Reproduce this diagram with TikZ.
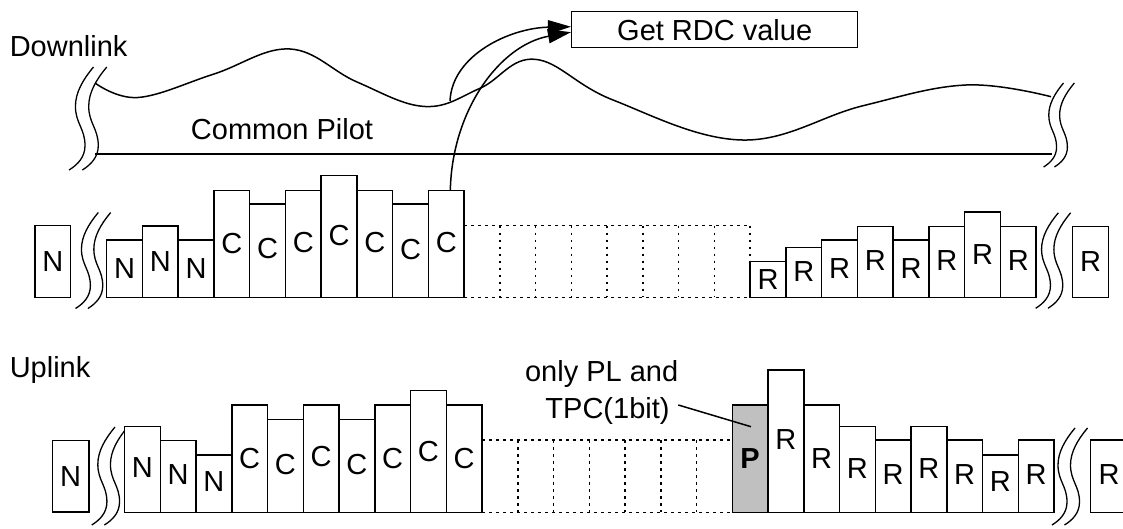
\documentclass[tikz,border=0pt]{standalone}
\usepackage{fontspec}
\setmainfont{Liberation Sans}
\usetikzlibrary{arrows.meta}
\definecolor{pgray}{RGB}{192,192,192}
\newcommand\brkmark[3]{%
  \begin{scope}[shift={(#1,#2)}, scale=#3/97]
    \foreach \g in {0,12.5}{%
      \draw[brkl] (\g,0) .. controls (\g-10,12) and (\g-17,24) .. (\g-17,37)
        .. controls (\g-17,53) and (\g-8,58) .. (\g-8,74)
        .. controls (\g-8,85) and (\g-15,92) .. (\g-23,97);}
  \end{scope}}
\begin{document}
\begin{tikzpicture}[x=1pt,y=-1pt, line width=1.5pt,
  bar/.style={draw, line width=1.5pt, fill=white, inner sep=0pt, outer sep=0pt,
    minimum width=35.75pt, anchor=south west},
  lbl/.style={font=\fontsize{29}{34}\selectfont, inner sep=0pt},
  dotl/.style={line width=1.5pt, dash pattern=on 2.5pt off 4.5pt},
  brkl/.style={line width=1.3pt},
  arr/.style={line width=1.5pt, -{Triangle[length=23pt,width=14pt]}}]
\useasboundingbox (0,0) rectangle (1123,529);

% ---------- labels ----------
\node[lbl, anchor=west] (downlink) at (9,46) {Downlink};
\node[lbl, anchor=west] (uplink) at (9,370) {Uplink};
\node[lbl] (pilot) at (282,129) {Common Pilot};
\node[lbl, draw, line width=1.5pt, minimum width=286pt, minimum height=36pt] (rdc) at (714.7,29.7) {Get RDC value};

% ---------- common pilot ----------
\draw plot[smooth, tension=0.65] coordinates {(95,83) (138,97.5) (214,74) (290,49) (357,82) (425,106.5) (480,88.3) (535,59.3) (613,100) (742,140) (862,106) (966,85) (1051,96.7)};
\draw (95,154) -- (1052,154);
\brkmark{93.5}{67}{103}
\brkmark{1063.5}{83}{84}

% ---------- downlink ----------
\node[bar, minimum width=35.7pt, minimum height=71.6pt] (dn0) at (35,297.3) {};
\node[lbl] (dn0l) at (52.85,261.7) {N};
\brkmark{98.3}{212.5}{96}
\foreach \l/\t/\ly [count=\i from 0] in {N/240/268.3, N/226/261.7, N/240/268.3, C/190.3/243.3, C/204/248.3, C/190.3/242.7, C/175.7/236, C/190.3/242.7, C/204/250, C/190.3/242.7}{
  \pgfmathsetmacro\xx{106.7+35.75*\i}
  \pgfmathsetmacro\hh{297.3-\t}
  \node[bar, minimum height=\hh pt] (d\i) at (\xx,297.3) {};
  \node[lbl] (dl\i) at (\xx+17.875,\ly) {\l};
}
% dotted gap
\draw[dotl] (464.2,225.7) -- (750.2,225.7);
\draw[dotl] (464.2,297.3) -- (750.2,297.3);
\foreach \k in {1,...,7}{
  \draw[dotl] (464.2+35.75*\k,225.7) -- (464.2+35.75*\k,297.3);
}
\draw[dotl] (750.2,225.7) -- (750.2,262);
\foreach \t/\ly [count=\i from 18] in {261.7/280, 247.3/271.7, 240/268.3, 226.3/260.7, 240/268.3, 226.3/260.7, 212/254.3, 226.3/260.7}{
  \pgfmathsetmacro\xx{106.7+35.75*\i}
  \pgfmathsetmacro\hh{297.3-\t}
  \node[bar, minimum height=\hh pt] (d\i) at (\xx,297.3) {};
  \node[lbl] (dl\i) at (\xx+17.875,\ly) {R};
}
\brkmark{1058.3}{212.8}{95.5}
\node[bar, minimum width=35.6pt, minimum height=71pt] (dr0) at (1072.7,297.3) {};
\node[lbl] (dr0l) at (1090.5,261.7) {R};

% ---------- uplink ----------
\node[bar, minimum width=36.7pt, minimum height=71.3pt] (un0) at (52.3,512) {};
\node[lbl] (un0l) at (70.65,476.7) {N};
\brkmark{115}{427}{98}
\foreach \l/\t/\ly [count=\i from 0] in {N/426.7/468, N/440.7/475, N/455/481.7, C/405/458.3, C/419.3/465, C/405/456.7, C/419.3/465, C/405/458.3, C/390.7/451.7, C/405/458.3}{
  \pgfmathsetmacro\xx{124.5+35.75*\i}
  \pgfmathsetmacro\hh{512.3-\t}
  \node[bar, minimum height=\hh pt] (u\i) at (\xx,512.3) {};
  \node[lbl] (ul\i) at (\xx+17.875,\ly) {\l};
}
\draw[dotl] (482,440) -- (732.25,440);
\draw[dotl] (482,512.3) -- (732.25,512.3);
\foreach \k in {1,...,6}{
  \draw[dotl] (482+35.75*\k,440) -- (482+35.75*\k,512.3);
}
\node[bar, fill=pgray, minimum height=107.3pt] (u17) at (732.25,512.3) {};
\node[lbl, font=\fontsize{29}{34}\selectfont\bfseries] (ul17) at (750.1,458.3) {P};
\foreach \t/\ly [count=\i from 18] in {370/440, 405/458.3, 426.7/468.3, 440/475, 426.7/468.3, 440/475, 455/481.7, 440/475}{
  \pgfmathsetmacro\xx{124.5+35.75*\i}
  \pgfmathsetmacro\hh{512.3-\t}
  \node[bar, minimum height=\hh pt] (u\i) at (\xx,512.3) {};
  \node[lbl] (ul\i) at (\xx+17.875,\ly) {R};
}
\brkmark{1075}{428}{97}
\node[bar, minimum width=40pt, minimum height=72.3pt] (ur0) at (1090.3,512.3) {};
\node[lbl] (ur0l) at (1109,475) {R};

% ---------- annotation ----------
\node[lbl, anchor=base] (ann1) at (601.7,381.7) {only PL and};
\node[lbl, anchor=base] (ann2) at (607.5,418.3) {TPC(1bit)};
\coordinate (annA) at (678.3,405);
\coordinate (annB) at (751,426.7);
\draw (annA) -- (annB);

% ---------- arrows ----------
\coordinate (w1) at (450,101);
\coordinate (c7) at ([xshift=4pt]d9.north);
\draw[arr] (w1) .. controls (452,55) and (510,28) .. ([yshift=3pt]rdc.west);
\draw[arr] (c7) .. controls (452,110) and (500,45) .. ([yshift=-2.5pt]rdc.west);
\end{tikzpicture}
\end{document}
